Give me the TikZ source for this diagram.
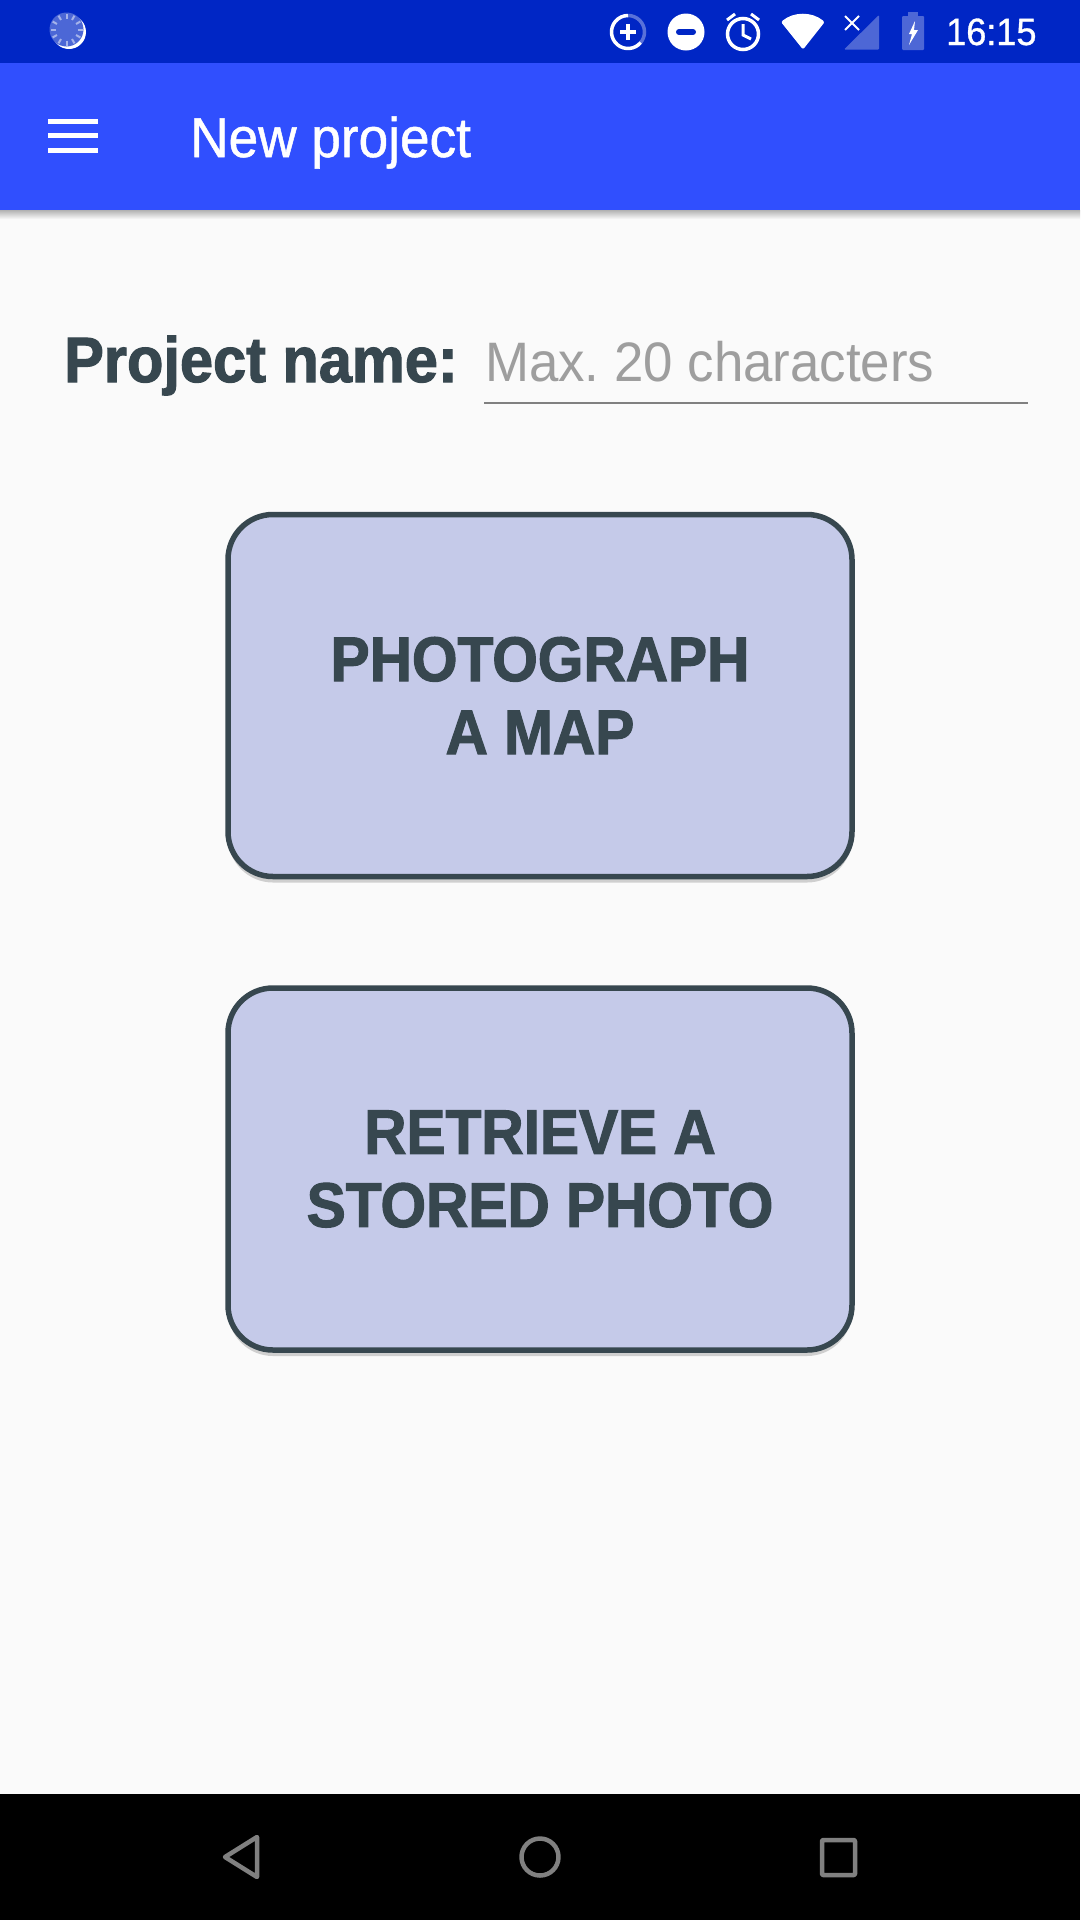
\documentclass[tikz,border=0pt]{standalone}
\usepackage{fontspec}
\setmainfont[FakeStretch=0.95,BoldFeatures={FakeStretch=0.93,FakeBold=1.8}]{Liberation Sans}
\newfontfamily\medfont[FakeStretch=0.95,FakeBold=0.9]{Liberation Sans}
\usetikzlibrary{shadows}
\definecolor{statusblue}{HTML}{0026C5}
\definecolor{barblue}{HTML}{304FFE}
\definecolor{pagebg}{HTML}{FAFAFA}
\definecolor{slate}{HTML}{37474F}
\definecolor{btnfill}{HTML}{C5CAE9}
\definecolor{hintgray}{HTML}{9E9E9E}
\definecolor{navgray}{HTML}{808080}

\begin{document}
\begin{tikzpicture}[
    x=1pt, y=-1pt,
    bigbtn/.style={draw=slate, line width=5.5pt, fill=btnfill, rounded corners=45pt, minimum width=624pt, minimum height=362pt, align=center, text=slate, font=\fontsize{63}{73}\selectfont\bfseries, execute at begin node={\rule{0pt}{57pt}}, drop shadow={opacity=0.35, shadow xshift=0pt, shadow yshift=-6pt}},
    bartext/.style={anchor=base west, inner sep=0pt, text=white},
    icon/.style={white, line width=3.5pt},
    navicon/.style={draw=navgray, line width=4.5pt, line join=round}
]
\useasboundingbox (0,0) rectangle (1080,1920);
% page bands
\fill[pagebg] (0,0) rectangle (1080,1920);
\shade[top color=black!30, bottom color=pagebg] (0,210) rectangle (1080,219);
\fill[statusblue] (0,0) rectangle (1080,63);
\fill[barblue] (0,63) rectangle (1080,210);
\fill[black] (0,1794) rectangle (1080,1920);

% status bar, left
\fill[white] (69,32) circle (17);
\fill[statusblue!70!white] (66.5,29.5) circle (17);
\foreach \a in {0,30,...,330}
  \draw[white, opacity=0.5, line width=2pt] (66.5,29.5) ++(\a:11) -- ++(\a:5);

% status bar, right
\draw[icon] (628,32) ++(40:16.5) arc (40:270:16.5);
\draw[icon, opacity=0.35] (628,32) ++(-90:16.5) arc (-90:40:16.5);
\draw[icon] (620,32) -- (636,32) (628,24) -- (628,40);
\fill[white] (686,32) circle (18.5);
\draw[statusblue, line width=6pt, line cap=round] (679,32) -- (693,32);
\draw[icon] (743,34) circle (15.5);
\draw[icon, line width=3pt] (743,24) -- (743,35) -- (751,39);
\draw[icon, line width=3pt] (727,20) -- (735,14) (751,14) -- (759,20);
\fill[white, rounded corners=2pt] (803,49.5) -- (781,22) arc (-130:-50:34) -- cycle;
\fill[white, opacity=0.3, rounded corners=1pt] (844,49.5) -- (879,49.5) -- (879,15) -- cycle;
\draw[white, line width=2pt] (845,16) -- (859,30) (859,16) -- (845,30);
\fill[white, opacity=0.3, rounded corners=1pt] (902,16) rectangle (924,50);
\fill[white, opacity=0.3] (908,12) rectangle (918,16);
\fill[white] (915,21) -- (909,34) -- (912,34) -- (909,45) -- (918,30) -- (914,30) -- cycle;
\node[bartext, font=\fontsize{38}{38}\selectfont\medfont] (clock) at (946,45) {16:15};

% app bar
\foreach \y in {121.5,135.5,150}
  \fill[white] (48,\y-2.5) rectangle (98,\y+2.5);
\node[bartext, font=\fontsize{56}{56}\selectfont\medfont] (title) at (190,157) {New project};

% name row
\node[anchor=base west, inner sep=0pt, text=slate, font=\fontsize{64}{64}\selectfont\bfseries] (namelbl) at (64,382) {Project name:};
\node[anchor=base west, inner sep=0pt, text=hintgray, font=\fontsize{55.6}{56}\selectfont] (namehint) at (485,381) {Max.\ 20 characters};
\draw[navgray, line width=2.5pt] (484,403) -- (1028,403);

% buttons
\node[bigbtn] (photobtn) at (540,695.5) {PHOTOGRAPH\\A MAP};
\node[bigbtn] (storedbtn) at (540,1169) {RETRIEVE A\\STORED PHOTO};

% navigation bar
\draw[navicon] (225,1857) -- (257,1837) -- (257,1877) -- cycle;
\draw[navicon] (540,1857) circle (18.5);
\draw[navicon, rounded corners=1pt] (822,1840) rectangle (855,1875);
\end{tikzpicture}
\end{document}
